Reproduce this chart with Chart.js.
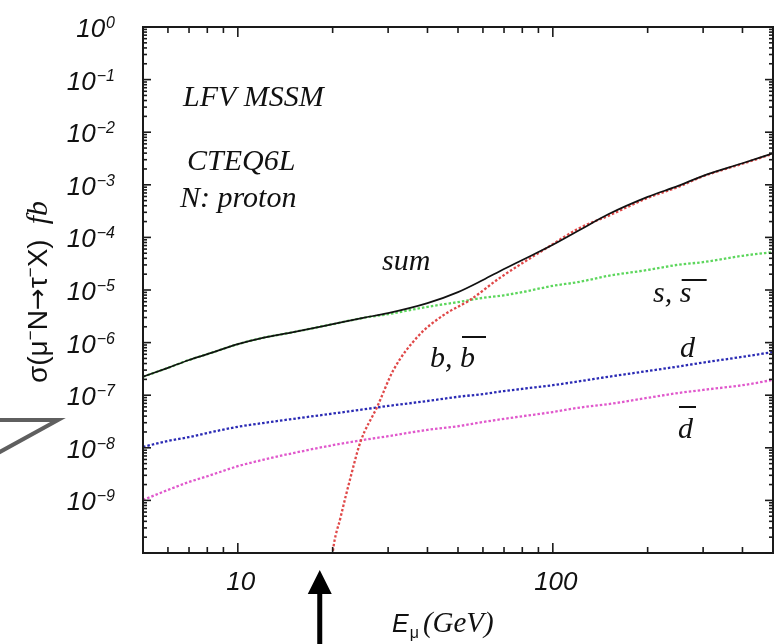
<!DOCTYPE html>
<html>
<head>
<meta charset="utf-8">
<script src="https://cdn.jsdelivr.net/npm/chart.js@4.4.1/dist/chart.umd.min.js"></script>
<style>
  html, body { margin: 0; padding: 0; background: #fff; }
  #wrap { width: 784px; height: 644px; position: relative; }
</style>
</head>
<body>
<div id="wrap"><canvas id="c" width="784" height="644"></canvas></div>
<script>
// ---- muon energy grid (GeV) and cross sections (fb) ----
var energy = [5, 6, 7, 8, 10, 12, 15, 20, 25, 30, 40, 50, 60, 70, 80, 100, 120, 150, 200, 250, 300, 400, 500];

var sigmaSum = [2.24e-7, 3.31e-7, 4.68e-7, 6.03e-7, 9.33e-7, 1.23e-6, 1.58e-6, 2.24e-6, 2.95e-6, 3.63e-6,
  5.62e-6, 9.12e-6, 1.55e-5, 2.51e-5, 3.72e-5, 7.24e-5, 1.32e-4, 2.75e-4, 5.89e-4, 9.55e-4, 1.48e-3, 2.57e-3, 3.98e-3];

var sigmaS = [2.24e-7, 3.31e-7, 4.68e-7, 6.03e-7, 9.33e-7, 1.23e-6, 1.58e-6, 2.24e-6, 2.95e-6, 3.47e-6,
  4.79e-6, 5.89e-6, 7.08e-6, 7.94e-6, 9.12e-6, 1.20e-5, 1.41e-5, 1.86e-5, 2.40e-5, 3.02e-5, 3.39e-5, 4.47e-5, 5.25e-5];

var sigmaD = [1.04e-8, 1.35e-8, 1.60e-8, 1.91e-8, 2.51e-8, 2.95e-8, 3.55e-8, 4.47e-8, 5.37e-8, 6.24e-8,
  7.76e-8, 9.33e-8, 1.05e-7, 1.20e-7, 1.32e-7, 1.55e-7, 1.82e-7, 2.24e-7, 2.88e-7, 3.51e-7, 4.17e-7, 5.37e-7, 6.61e-7];

var sigmaDbar = [1.02e-9, 1.58e-9, 2.24e-9, 2.88e-9, 4.47e-9, 5.89e-9, 7.94e-9, 1.12e-8, 1.41e-8, 1.66e-8,
  2.19e-8, 2.57e-8, 3.09e-8, 3.55e-8, 3.98e-8, 4.79e-8, 5.75e-8, 6.76e-8, 8.91e-8, 1.10e-7, 1.26e-7, 1.55e-7, 1.95e-7];

// b quark channel opens near 20 GeV, so it gets its own grid
var energyB = [19.8, 20.0, 21.2, 22.8, 24.5, 27.7, 31.2, 37.2, 44.9, 54.6, 67.9, 95.7, 121.7, 150, 200, 250, 300, 400, 500];
var sigmaB = [5e-11, 1.0e-10, 4.8e-10, 2.75e-9, 1.29e-8, 6.03e-8, 3.02e-7, 1.29e-6, 3.31e-6, 6.46e-6,
  1.70e-5, 6.31e-5, 1.51e-4, 2.57e-4, 5.62e-4, 9.12e-4, 1.45e-3, 2.51e-3, 3.89e-3];

// ---- axes ----
var xLabelTicks = [10, 100];
var xMinorTicks = [6, 7, 8, 9, 20, 30, 40, 50, 60, 70, 80, 90, 200, 300, 400];
var yDecades = [0, -1, -2, -3, -4, -5, -6, -7, -8, -9, -10];
var yLabelExps = [0, -1, -2, -3, -4, -5, -6, -7, -8, -9];
var arrowEnergy = 18.2;

function pts(xs, ys) {
  return xs.map(function(x, i) { return { x: x, y: ys[i] }; });
}

var SANS = '"Liberation Sans", Arial, sans-serif';
var SERIF = '"Liberation Serif", "Times New Roman", serif';

function dotted(label, data, color) {
  return { label: label, data: data, borderColor: color, borderWidth: 2.3, borderDash: [2.5, 2],
    pointRadius: 0, cubicInterpolationMode: 'monotone', fill: false };
}

// ---- frame, inward ticks, labels and annotations ----
var framePlugin = {
  id: 'framePlugin',
  afterDraw: function(chart) {
    var ctx = chart.ctx, a = chart.chartArea;
    var xs = chart.scales.x, ys = chart.scales.y;

    function seg(x1, y1, x2, y2) { ctx.beginPath(); ctx.moveTo(x1, y1); ctx.lineTo(x2, y2); ctx.stroke(); }

    ctx.save();
    ctx.strokeStyle = '#1a1a1a';
    ctx.lineWidth = 2;
    ctx.strokeRect(a.left, a.top, a.right - a.left, a.bottom - a.top);

    ctx.lineWidth = 1.6;
    yDecades.forEach(function(p) {
      var y = ys.getPixelForValue(Math.pow(10, p));
      seg(a.left, y, a.left + 8, y); seg(a.right, y, a.right - 8, y);
      if (p === -10) return;
      for (var m = 2; m <= 9; m++) {
        var ym = ys.getPixelForValue(m * Math.pow(10, p - 1));
        seg(a.left, ym, a.left + 4, ym); seg(a.right, ym, a.right - 4, ym);
      }
    });
    xLabelTicks.forEach(function(v) {
      var x = xs.getPixelForValue(v);
      seg(x, a.bottom, x, a.bottom - 10); seg(x, a.top, x, a.top + 10);
    });
    xMinorTicks.forEach(function(v) {
      var x = xs.getPixelForValue(v);
      seg(x, a.bottom, x, a.bottom - 6); seg(x, a.top, x, a.top + 6);
    });

    // y tick labels 10^n
    ctx.fillStyle = '#111';
    ctx.textBaseline = 'alphabetic';
    ctx.textAlign = 'left';
    yLabelExps.forEach(function(p) {
      var y = ys.getPixelForValue(Math.pow(10, p));
      var ex = p === 0 ? '0' : '\u2212' + (-p);
      ctx.font = 'italic 26px ' + SANS;
      var w1 = ctx.measureText('10').width;
      ctx.font = 'italic 16px ' + SANS;
      var w2 = ctx.measureText(ex).width;
      var x0 = 114 - w1 - w2;
      ctx.font = 'italic 26px ' + SANS;
      ctx.fillText('10', x0, y + 10);
      ctx.font = 'italic 16px ' + SANS;
      ctx.fillText(ex, x0 + w1 + 1, y + 1);
    });

    // x tick labels
    ctx.textAlign = 'center';
    ctx.font = 'italic 26px ' + SANS;
    xLabelTicks.forEach(function(v) {
      ctx.fillText(String(v), xs.getPixelForValue(v) + 3, 590);
    });

    // x title: E_mu (GeV)
    ctx.textAlign = 'left';
    var tx = 392;
    ctx.font = 'italic 25px ' + SANS;
    ctx.fillText('E', tx, 632);
    tx += ctx.measureText('E').width + 1;
    ctx.font = '16px ' + SANS;
    ctx.fillText('\u03bc', tx, 638);
    tx += ctx.measureText('\u03bc').width + 4;
    ctx.font = 'italic 29px ' + SERIF;
    ctx.fillText('(GeV)', tx, 632);

    // y title, rotated
    ctx.save();
    ctx.translate(47, 292);
    ctx.rotate(-Math.PI / 2);
    var parts = [
      { t: '\u03c3(\u03bc', f: '28px ' + SANS, dy: 0 },
      { t: '\u2212', f: '17px ' + SANS, dy: -11 },
      { t: 'N', f: '28px ' + SANS, dy: 0 },
      { t: '\u2192', f: '26px "DejaVu Sans"', dy: -1 },
      { t: '\u03c4', f: '28px ' + SANS, dy: 0 },
      { t: '\u2212', f: '17px ' + SANS, dy: -11 },
      { t: 'X)', f: '28px ' + SANS, dy: 0 },
      { t: '  fb', f: 'italic 30px ' + SERIF, dy: 0 }
    ];
    var total = 0;
    parts.forEach(function(pt) { ctx.font = pt.f; pt.w = ctx.measureText(pt.t).width; total += pt.w; });
    var cx = -total / 2;
    parts.forEach(function(pt) { ctx.font = pt.f; ctx.fillText(pt.t, cx, pt.dy); cx += pt.w; });
    ctx.restore();

    // in-plot labels
    ctx.font = 'italic 30px ' + SERIF;
    ctx.fillText('LFV MSSM', 183, 106);
    ctx.fillText('CTEQ6L', 187, 170);
    ctx.fillText('N: proton', 180, 207);
    ctx.fillText('sum', 382, 270);

    ctx.lineWidth = 2;
    ctx.strokeStyle = '#111';
    ctx.fillText('b, ', 430, 367);
    var bx = 430 + ctx.measureText('b, ').width;
    ctx.fillText('b', bx, 367);
    seg(bx + 2, 337, bx + 26, 337);

    ctx.fillText('s, ', 653, 302);
    var sx = 653 + ctx.measureText('s, ').width;
    ctx.fillText('s', sx, 302);
    seg(sx + 2, 280, sx + 27, 280);

    ctx.fillText('d', 680, 357);
    ctx.fillText('d', 678, 438);
    seg(679, 407, 696, 407);

    // pointer arrow at the b threshold
    var ax = xs.getPixelForValue(arrowEnergy);
    ctx.fillStyle = '#000';
    ctx.fillRect(ax - 2.5, 592, 5, 60);
    ctx.beginPath();
    ctx.moveTo(ax - 12, 594); ctx.lineTo(ax + 12, 594); ctx.lineTo(ax, 570); ctx.closePath();
    ctx.fill();

    // grey bracket on the left margin
    ctx.strokeStyle = '#5f5f5f';
    ctx.lineWidth = 4;
    ctx.lineJoin = 'miter';
    ctx.beginPath();
    ctx.moveTo(-2, 420); ctx.lineTo(58, 420); ctx.lineTo(-2, 453);
    ctx.stroke();

    ctx.restore();
  }
};

new Chart(document.getElementById('c').getContext('2d'), {
  type: 'line',
  data: {
    datasets: [
      { label: 'sum', data: pts(energy, sigmaSum), borderColor: '#111', borderWidth: 1.7,
        pointRadius: 0, cubicInterpolationMode: 'monotone', fill: false },
      dotted('b', pts(energyB, sigmaB), '#e04848'),
      dotted('s', pts(energy, sigmaS), '#5cd65c'),
      dotted('d', pts(energy, sigmaD), '#2a2ab4'),
      dotted('dbar', pts(energy, sigmaDbar), '#e058cc')
    ]
  },
  options: {
    responsive: false, animation: false,
    layout: { padding: { left: 143, right: 11, top: 27, bottom: 91 } },
    scales: {
      x: { type: 'logarithmic', min: 5, max: 500, display: false },
      y: { type: 'logarithmic', min: 1e-10, max: 1, display: false }
    },
    plugins: { legend: { display: false }, tooltip: { enabled: false } }
  },
  plugins: [framePlugin]
});
</script>
</body>
</html>
